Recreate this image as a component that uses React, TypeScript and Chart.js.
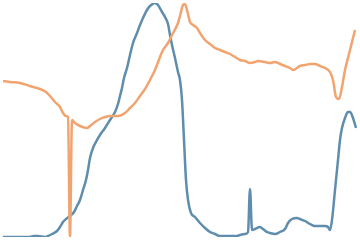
import React, { useEffect, useRef } from "react";
import { Chart, registerables } from "chart.js";

Chart.register(...registerables);

// Orange series: x positions and values
const orangeX = [0, 7, 17, 27, 37, 43, 47, 52, 57, 60, 63, 65, 67, 69, 72, 77, 84, 87, 92, 97, 102, 107, 115, 122, 127, 132, 137, 142, 147, 152, 157, 160, 165, 169, 175, 177, 180, 182, 184, 187, 190, 194, 197, 202, 207, 212, 217, 222, 227, 232, 237, 242, 247, 252, 255, 262, 267, 272, 277, 282, 287, 290, 294, 297, 302, 307, 312, 317, 322, 327, 330, 333, 336, 339, 342, 346, 349, 352];
const orangeY = [156, 155, 154, 151, 148, 145, 141, 135, 130, 124, 121, 120, 0, 117, 114, 111, 109, 111, 115, 118, 120, 121, 121, 124, 129, 134, 141, 148, 157, 167, 180, 187, 194, 202, 214, 221, 232, 233, 227, 215, 212, 209, 204, 197, 193, 189, 187, 185, 183, 180, 177, 176, 174, 175, 176, 175, 174, 175, 173, 171, 169, 167, 169, 171, 172, 173, 173, 171, 169, 165, 157, 140, 138, 150, 167, 183, 195, 207];

// Blue series: x positions and values
const blueX = [0, 10, 20, 27, 31, 35, 42, 45, 49, 54, 57, 60, 63, 67, 71, 74, 77, 80, 83, 85, 87, 90, 94, 97, 102, 107, 112, 115, 117, 119, 121, 124, 127, 130, 134, 137, 140, 144, 147, 152, 155, 159, 162, 165, 167, 169, 172, 175, 177, 179, 181, 183, 185, 188, 192, 197, 202, 207, 212, 217, 227, 234, 237, 242, 245, 247, 249, 252, 257, 260, 264, 267, 272, 277, 282, 285, 289, 294, 297, 302, 307, 312, 317, 322, 325, 327, 329, 332, 335, 337, 339, 342, 345, 347, 350, 353];
const blueY = [0, 0, 0, 0, 1, 1, 0, 1, 3, 6, 10, 15, 18, 21, 25, 31, 37, 47, 57, 67, 79, 89, 97, 102, 109, 117, 125, 133, 141, 149, 159, 169, 182, 194, 204, 212, 219, 227, 231, 234, 232, 225, 220, 213, 202, 192, 179, 165, 157, 137, 97, 57, 37, 24, 20, 14, 9, 5, 3, 1, 1, 1, 2, 3, 5, 48, 7, 8, 10, 8, 5, 4, 3, 5, 8, 14, 18, 19, 18, 16, 13, 11, 11, 11, 10, 7, 17, 47, 77, 97, 109, 119, 125, 125, 119, 109];

const orangeData = orangeX.map((x, i) => ({ x, y: orangeY[i] }));
const blueData = blueX.map((x, i) => ({ x, y: blueY[i] }));

export default function App() {
  const ref = useRef<HTMLCanvasElement | null>(null);

  useEffect(() => {
    document.body.style.margin = "0";
    if (!ref.current) return;
    const chart = new Chart(ref.current, {
      type: "line",
      data: {
        datasets: [
          {
            data: orangeData,
            borderColor: "#F1A46F",
            borderWidth: 2.5,
            pointRadius: 0,
            fill: false,
            cubicInterpolationMode: "monotone",
          },
          {
            data: blueData,
            borderColor: "#5F8DAD",
            borderWidth: 2.5,
            pointRadius: 0,
            fill: false,
            cubicInterpolationMode: "monotone",
          },
        ],
      },
      options: {
        animation: false,
        responsive: false,
        maintainAspectRatio: false,
        layout: { padding: 3 },
        plugins: { legend: { display: false }, tooltip: { enabled: false } },
        scales: {
          x: { type: "linear", min: 0, max: 354, display: false },
          y: { type: "linear", min: 0, max: 234, display: false },
        },
      },
    });
    return () => chart.destroy();
  }, []);

  return (
    <div style={{ width: 360, height: 240 }}>
      <canvas ref={ref} width={360} height={240} />
    </div>
  );
}
